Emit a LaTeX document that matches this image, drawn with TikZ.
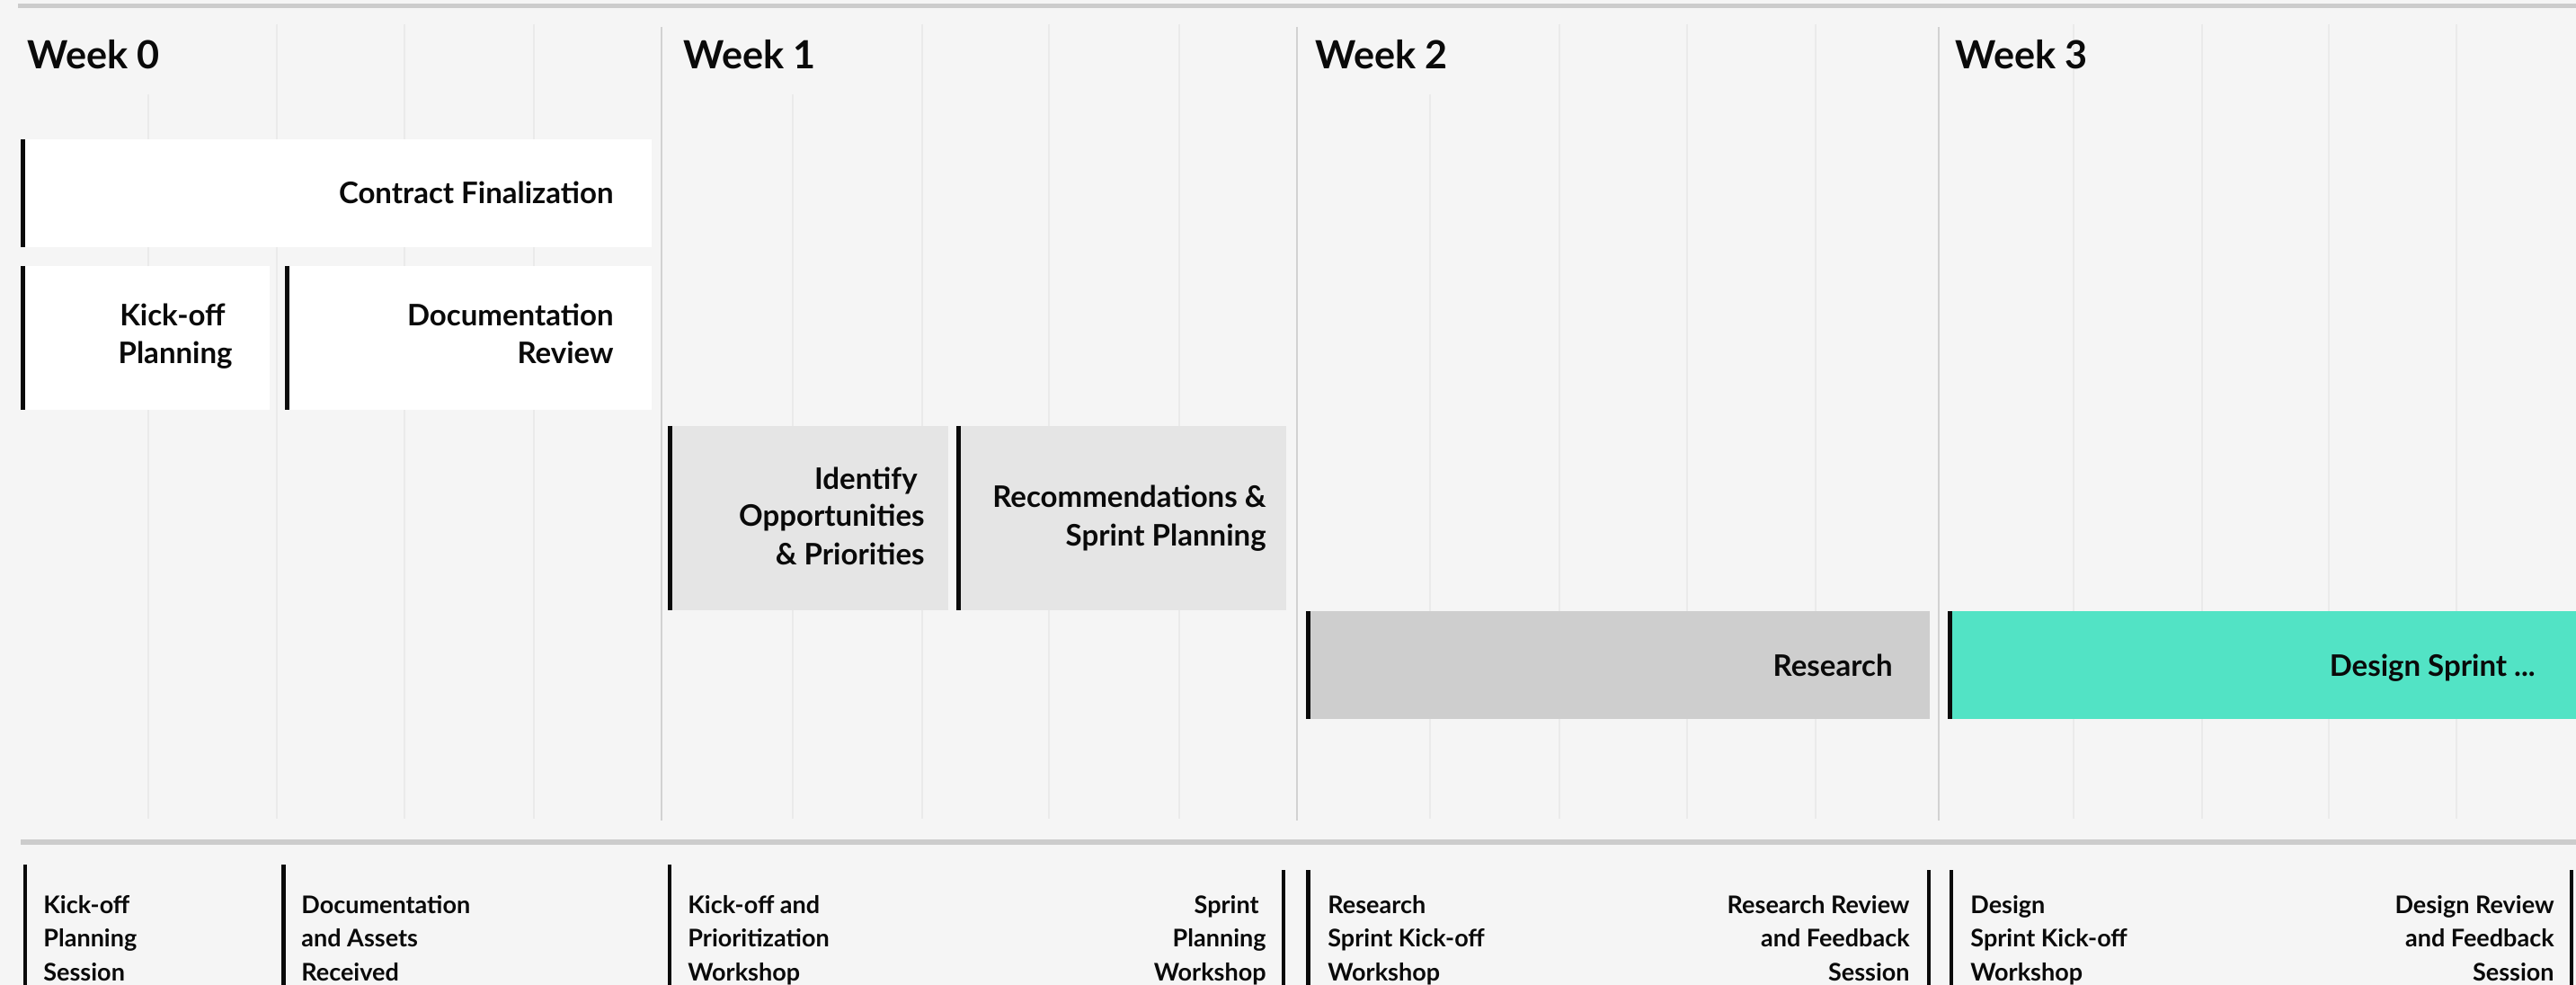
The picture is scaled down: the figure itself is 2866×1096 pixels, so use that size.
\documentclass[tikz,border=0pt]{standalone}
\usepackage{fontspec}
\setmainfont{Lato}
\definecolor{bg}{HTML}{F5F5F5}
\definecolor{rulegray}{HTML}{CCCCCC}
\definecolor{divgray}{HTML}{D2D2D2}
\definecolor{gridgray}{HTML}{EAEAEA}
\definecolor{lightbar}{HTML}{E5E5E5}
\definecolor{midbar}{HTML}{CECECE}
\definecolor{tealbar}{HTML}{52E3C5}
\definecolor{ink}{HTML}{0A0A0A}
\tikzset{
  gridline/.style={draw=gridgray, line width=1pt},
  divider/.style={draw=divgray, line width=1.2pt},
  hrule/.style={draw=rulegray, line width=2.8pt},
  edgebar/.style={draw=ink, line width=2.5pt},
  msline/.style={draw=ink, line width=2.4pt},
  weeklabel/.style={inner sep=0pt, anchor=base west, text=ink, font=\bfseries\fontsize{21.6}{25}\selectfont},
  bartext/.style={inner sep=0pt, anchor=base east, align=right, text=ink, font=\bfseries\fontsize{16.5}{21}\selectfont},
  msleft/.style={inner sep=0pt, anchor=base west, align=left, text=ink, font=\bfseries\fontsize{13.5}{18.75}\selectfont},
  msright/.style={inner sep=0pt, anchor=base east, align=right, text=ink, font=\bfseries\fontsize{13.5}{18.75}\selectfont},
}
\begin{document}
\begin{tikzpicture}[x=0.5pt,y=-0.5pt]
\fill[bg] (0,0) rectangle (2866,1096);
\useasboundingbox (0,0) rectangle (2866,1096);
% grid
\foreach \x in {308,450,594,1026,1167,1312,1735,1877,2020,2307,2450,2591,2733}
  \draw[gridline] (\x,27) -- (\x,911);
\foreach \x in {165,882,1591}
  \draw[gridline] (\x,105) -- (\x,911);
\foreach \x in {736,1443,2157}
  \draw[divider] (\x,30) -- (\x,913);
% rules
\draw[hrule] (20,6.5) -- (2866,6.5);
\draw[hrule] (23,937) -- (2866,937);
% week labels
\node[weeklabel] (w0) at (30,77) {Week 0};
\node[weeklabel] (w1) at (760,77) {Week 1};
\node[weeklabel] (w2) at (1463,77) {Week 2};
\node[weeklabel] (w3) at (2175,77) {Week 3};
% bars
\fill[white] (23,155) rectangle (725,275);
\draw[edgebar] (25.5,155) -- (25.5,275);
\node[bartext] (contract) at (683,227) {Contract Finalization};

\fill[white] (23,296) rectangle (300,456);
\draw[edgebar] (25.5,296) -- (25.5,456);
\node[bartext] (kickoff) at (259,405) {Kick-off\kern4pt\\Planning};

\fill[white] (317,296) rectangle (725,456);
\draw[edgebar] (319.5,296) -- (319.5,456);
\node[bartext] (docreview) at (683,405) {Documentation\\Review};

\fill[lightbar] (743,474) rectangle (1055,679);
\draw[edgebar] (745.5,474) -- (745.5,679);
\node[bartext] (identify) at (1029,628) {Identify\kern4pt\\Opportunities\\\& Priorities};

\fill[lightbar] (1064,474) rectangle (1431,679);
\draw[edgebar] (1066.5,474) -- (1066.5,679);
\node[bartext] (recommend) at (1409,607) {Recommendations \&\\Sprint Planning};

\fill[midbar] (1453,680) rectangle (2147,800);
\draw[edgebar] (1455.5,680) -- (1455.5,800);
\node[bartext] (research) at (2106,752) {Research};

\fill[tealbar] (2167,680) rectangle (2866,800);
\draw[edgebar] (2169.5,680) -- (2169.5,800);
\node[bartext] (design) at (2821,752) {Design Sprint ...};
% milestones
\coordinate (m1t) at (28,962);   \coordinate (m1b) at (28,1096);
\coordinate (m2t) at (315.5,962); \coordinate (m2b) at (315.5,1096);
\coordinate (m3t) at (745,962);  \coordinate (m3b) at (745,1096);
\coordinate (m4t) at (1428,968); \coordinate (m4b) at (1428,1096);
\coordinate (m5t) at (1455.5,968); \coordinate (m5b) at (1455.5,1096);
\coordinate (m6t) at (2146,968); \coordinate (m6b) at (2146,1096);
\coordinate (m7t) at (2171,968); \coordinate (m7b) at (2171,1096);
\coordinate (m8t) at (2861,968); \coordinate (m8b) at (2861,1096);
\foreach \i in {1,...,8} \draw[msline] (m\i t) -- (m\i b);
\node[msleft] (ms1) at (48,1091) {Kick-off\\Planning\\Session};
\node[msleft] (ms2) at (335,1091) {Documentation\\and Assets\\Received};
\node[msleft] (ms3) at (765,1091) {Kick-off and\\Prioritization\\Workshop};
\node[msright] (ms4) at (1409,1091) {Sprint\kern4pt\\Planning\\Workshop};
\node[msleft] (ms5) at (1477,1091) {Research\\Sprint Kick-off\\Workshop};
\node[msright] (ms6) at (2125,1091) {Research Review\\and Feedback\\Session};
\node[msleft] (ms7) at (2192,1091) {Design\\Sprint Kick-off\\Workshop};
\node[msright] (ms8) at (2842,1091) {Design Review\\and Feedback\\Session};
\end{tikzpicture}
\end{document}
